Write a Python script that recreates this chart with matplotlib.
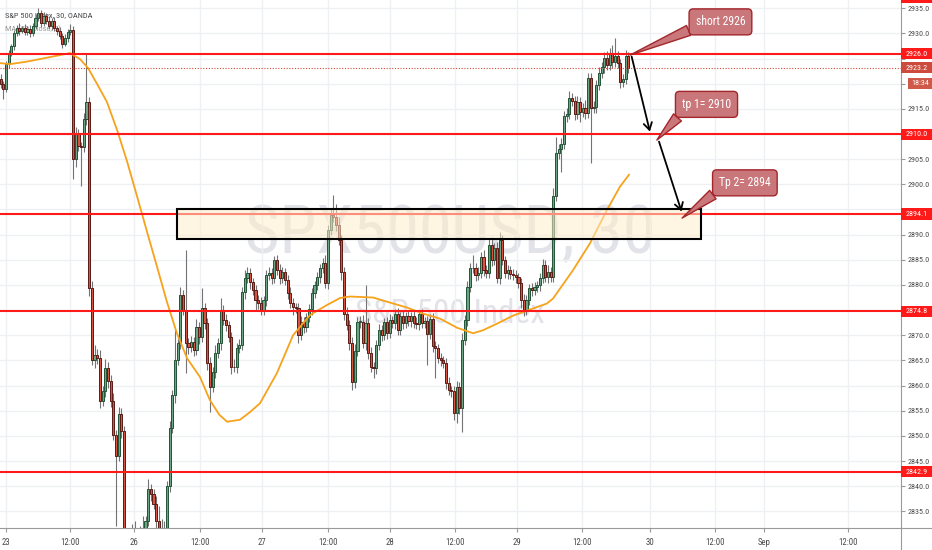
import numpy as np
import matplotlib
matplotlib.use('Agg')
import matplotlib.pyplot as plt
from matplotlib import font_manager
from matplotlib.patches import Rectangle
from matplotlib.lines import Line2D
import matplotlib.transforms as mtransforms

# SPX500USD 30 min candles, bar 0 = first bar of Aug 23 (opens = previous close)
first_bar = -2
first_open = 2921.0
closes = [
    2920, 2919, 2924, 2926, 2927.5, 2930, 2931, 2930.5, 2931, 2930.2,
    2930.8, 2930, 2931.5, 2933, 2934, 2932, 2933.5, 2932.5, 2931.5, 2932.5,
    2931, 2930.5, 2929.5, 2928, 2929, 2930.3, 2930.6, 2905, 2910, 2907.6,
    2907.5, 2913, 2916.4, 2879.3, 2865, 2866, 2865.5, 2857, 2859, 2863.5,
    2861, 2857, 2850.2, 2846, 2854.3, 2851, 2827, 2826, 2828, 2829,
    2827, 2829, 2830, 2831, 2833, 2839.5, 2838.5, 2836.5, 2833, 2830,
    2829, 2831, 2840, 2851.5, 2858.1, 2865.1, 2868.5, 2878, 2875, 2868.5,
    2867.7, 2868.7, 2867.1, 2871.7, 2869.7, 2875.5, 2872.4, 2864.5, 2859.7, 2862.7,
    2866.5, 2868.5, 2875, 2873, 2872, 2869.7, 2863.7, 2863.6, 2867.5, 2868.1,
    2878.5, 2881.4, 2882.4, 2880.6, 2879, 2877, 2876.4, 2875, 2877, 2882,
    2882.4, 2881.4, 2885, 2883, 2881.4, 2882.6, 2881, 2878.4, 2876.4, 2875.6,
    2875.4, 2870, 2872.6, 2871.6, 2873.6, 2875.2, 2878.4, 2880, 2881.6, 2883.4,
    2884.4, 2880.4, 2891, 2893.9, 2893.5, 2892, 2889, 2882.5, 2874.2, 2872,
    2868.5, 2860.8, 2866.8, 2872.6, 2872.6, 2868.5, 2872.5, 2866.5, 2863.7, 2863.5,
    2868, 2871, 2870, 2872.6, 2870.4, 2873, 2872.4, 2874.2, 2871, 2873.8,
    2872.4, 2873.8, 2872.8, 2873.8, 2872.4, 2872.2, 2874.2, 2872.4, 2872.8, 2870.2,
    2873.2, 2867.8, 2867.5, 2865.5, 2865, 2864.5, 2860.5, 2859.2, 2859, 2854.6,
    2859.8, 2855.6, 2869, 2873, 2879.5, 2883.3, 2883.3, 2882, 2882.3, 2885.5,
    2883, 2882.4, 2888, 2885, 2887.4, 2881.4, 2889, 2885, 2882.4, 2883,
    2882.2, 2882, 2881.6, 2880.4, 2877, 2875, 2877, 2879.3, 2879, 2879.6,
    2880, 2881.4, 2884, 2881.6, 2882.5, 2881.6, 2897.7, 2906.2, 2907, 2908,
    2913.6, 2914, 2917.1, 2916.6, 2914, 2916.4, 2914.4, 2915.2, 2914.2, 2921.1,
    2915.2, 2915.4, 2919.7, 2922.1, 2923.3, 2925.1, 2923.7, 2926.1, 2924.3, 2925.5,
    2924.1, 2920.3, 2921, 2925.5, 2923.2,
]
upper_wick = [
    1.0, 0.5, 0.6, 0.8, 0.5, 0.7, 0.6, 1.0, 0.5, 0.8,
    0.6, 0.9, 0.5, 0.8, 1.0, 0.6, 0.7, 0.5, 0.9, 0.6,
    0.8, 0.5, 0.7, 0.6, 0.9, 0.5, 1.2, 0.8, 1.5, 1.0,
    0.8, 1.2, 9.6, 1.0, 1.5, 2.0, 1.2, 1.5, 1.0, 1.8,
    1.2, 1.0, 1.5, 1.0, 1.5, 1.2, 1.0, 1.5, 1.0, 3.5,
    4.0, 1.0, 2.0, 3.0, 1.0, 2.0, 1.0, 1.0, 1.5, 3.0,
    3.5, 2.0, 1.0, 1.5, 1.0, 6.0, 1.0, 1.5, 1.0, 12.0,
    1.0, 1.2, 1.0, 1.5, 1.0, 3.8, 1.0, 1.0, 1.2, 1.0,
    1.5, 1.0, 2.4, 1.0, 1.2, 0.8, 1.0, 1.5, 1.0, 1.2,
    1.0, 1.5, 1.2, 1.0, 0.8, 1.0, 1.0, 1.2, 0.8, 1.0,
    1.2, 1.0, 0.8, 1.0, 1.2, 1.0, 0.8, 1.0, 1.2, 1.0,
    0.8, 1.0, 1.2, 1.0, 0.8, 1.0, 1.0, 0.8, 1.0, 0.8,
    1.0, 1.5, 1.0, 1.2, 3.9, 2.5, 1.5, 1.0, 1.0, 1.5,
    1.0, 1.2, 1.5, 1.0, 1.2, 1.5, 7.5, 1.0, 1.2, 1.0,
    1.0, 1.2, 1.0, 0.8, 1.0, 1.2, 0.8, 1.0, 1.2, 0.8,
    1.0, 0.8, 1.0, 0.8, 1.0, 1.2, 0.8, 1.0, 0.8, 1.0,
    1.0, 1.2, 1.0, 0.8, 1.0, 0.8, 1.0, 1.2, 0.8, 1.0,
    1.2, 1.0, 1.5, 1.0, 1.2, 1.0, 2.7, 1.0, 1.2, 1.0,
    1.5, 1.0, 1.2, 1.5, 1.0, 1.2, 1.5, 1.0, 0.8, 1.0,
    0.8, 1.0, 1.0, 0.8, 1.0, 1.2, 1.0, 0.8, 1.0, 1.0,
    0.8, 1.0, 1.2, 1.0, 1.5, 1.0, 1.5, 3.3, 1.0, 1.2,
    1.0, 1.2, 1.5, 1.0, 1.0, 1.2, 1.0, 1.0, 1.5, 1.0,
    1.0, 1.2, 1.0, 1.2, 1.0, 1.2, 1.5, 1.0, 1.6, 3.6,
    1.0, 0.8, 1.0, 1.2, 0.8,
]
lower_wick = [
    0.8, 2.0, 0.6, 0.8, 0.5, 0.7, 0.6, 0.8, 0.5, 0.6,
    0.6, 0.8, 0.5, 0.7, 0.6, 0.8, 0.5, 0.7, 0.6, 0.8,
    0.5, 0.8, 0.6, 0.9, 0.5, 0.7, 0.6, 4.0, 1.5, 1.0,
    7.8, 1.0, 1.2, 1.5, 1.0, 1.5, 1.2, 1.5, 1.0, 1.2,
    1.5, 1.2, 1.0, 14.0, 1.0, 1.5, 5.0, 2.0, 1.5, 2.0,
    2.0, 1.5, 2.0, 1.5, 1.0, 1.0, 1.5, 1.0, 1.5, 2.0,
    1.5, 1.0, 1.0, 1.2, 1.0, 1.5, 1.0, 1.2, 1.0, 6.0,
    1.5, 1.0, 1.2, 1.0, 1.5, 1.0, 1.2, 1.5, 5.0, 1.0,
    1.2, 1.0, 1.5, 1.0, 1.2, 1.0, 1.5, 1.0, 1.2, 1.0,
    1.0, 1.2, 1.0, 1.5, 1.0, 2.0, 1.2, 1.0, 1.0, 1.2,
    1.0, 1.2, 1.0, 1.0, 1.2, 1.0, 1.0, 1.2, 1.0, 1.5,
    1.0, 1.5, 1.0, 1.2, 1.0, 1.0, 1.2, 1.0, 1.0, 1.2,
    1.0, 1.0, 1.2, 1.0, 1.0, 1.2, 1.0, 1.5, 1.2, 1.0,
    1.5, 1.6, 1.2, 1.0, 1.2, 1.0, 1.5, 1.2, 1.0, 2.0,
    1.2, 1.0, 1.2, 1.0, 1.2, 1.0, 1.0, 1.2, 1.0, 1.0,
    1.2, 1.0, 1.0, 1.2, 1.0, 1.0, 1.2, 1.0, 1.0, 6.2,
    1.0, 1.2, 6.0, 1.0, 1.2, 1.0, 1.2, 1.0, 1.2, 1.5,
    2.1, 1.2, 4.9, 1.0, 1.2, 1.0, 1.0, 1.2, 1.0, 1.0,
    1.2, 1.0, 1.0, 1.2, 1.0, 1.0, 1.2, 1.0, 1.0, 1.2,
    1.0, 1.0, 1.2, 1.0, 1.5, 1.2, 1.0, 1.0, 1.2, 1.0,
    1.0, 1.2, 1.0, 1.0, 1.2, 1.0, 1.0, 1.0, 1.2, 4.5,
    1.0, 1.2, 1.0, 1.0, 1.2, 1.0, 2.0, 1.0, 1.2, 1.0,
    11.0, 1.0, 1.2, 1.0, 1.0, 1.2, 1.0, 1.0, 1.2, 1.0,
    1.0, 1.2, 1.0, 1.0, 1.0,
]

# MA(50) read at points along the orange curve
ma_bar = [-2.2, 1.5, 7.8, 16.4, 23.9, 27.6, 30.6, 33.9, 37.6, 41.4, 45.1, 48.8,
          52.6, 56.3, 60.0, 63.7, 67.5, 72.3, 76.0, 79.5, 82.4, 87.2, 90.9, 94.7, 101.0,
          107.0, 113.3, 119.6, 124.5, 128.2, 136.8, 143.1, 149.5, 155.4, 161.8,
          168.1, 174.1, 177.8, 183.0, 189.0, 194.2, 201.6, 203.9, 211.3, 217.7,
          224.0, 228.8, 232.2]
ma_price = [2924.1, 2923.9, 2924.4, 2925.3, 2926.1, 2924.9, 2923.1, 2920.0, 2916.4,
            2910.8, 2904.6, 2897.7, 2890.5, 2883.6, 2876.6, 2870.4, 2865.4, 2861.7,
            2857.1, 2854.2, 2852.8, 2853.2, 2854.7, 2856.5, 2862.5, 2870.0, 2874.0, 2876.0,
            2877.4, 2877.7, 2877.5, 2876.5, 2875.5, 2874.3, 2873.3, 2871.5, 2870.4,
            2871.0, 2872.3, 2873.9, 2874.9, 2876.3, 2877.3, 2882.9, 2888.3, 2894.9,
            2899.5, 2901.9]

levels = [2926.0, 2910.0, 2894.1, 2874.8, 2842.9]
top_level = 2937.2
last_price = 2923.2
countdown = '18:34'

zone_bars = (63.9, 259.0)
zone_prices = (2889.2, 2895.1)

callout_texts = ['short 2926', 'tp 1= 2910', 'Tp 2= 2894']
callout_tips = [(232.6, 2925.7), (242.6, 2908.8), (252.0, 2893.3)]
callout_centers = [(266.3, 2932.3), (261.1, 2915.9), (275.4, 2900.3)]

move_starts = [(233.2, 2925.4), (243.4, 2908.5)]
move_ends = [(240.0, 2910.5), (251.8, 2894.6)]

tick_bars = [0, 23.9, 47.7, 72.3, 95.4, 120, 143.1, 167.3, 190.5, 214.7, 240, 264.3, 282.5, 313.8]
tick_labels = ['23', '12:00', '26', '12:00', '27', '12:00', '28', '12:00', '29',
               '12:00', '30', '12:00', 'Sep', '12:00']
price_ticks = np.arange(2835, 2936, 5)
hidden_price_labels = [2925, 2920, 2910, 2895, 2875]   # covered by tags on the scale

# the screenshot text is narrow; use a condensed face when one is installed
installed = {f.name for f in font_manager.fontManager.ttflist}
narrow = [n for n in ['Roboto Condensed', 'Liberation Sans Narrow', 'Open Sans Condensed']
          if n in installed]
if narrow:
    plt.rcParams['font.family'] = [narrow[0], 'DejaVu Sans']
    fs = 1.0
else:
    plt.rcParams['font.family'] = ['Liberation Sans', 'DejaVu Sans']
    fs = 0.86

up_body, up_edge = '#6ba583', '#225437'
dn_body, dn_edge = '#d75442', '#5b1a13'
wick_col = '#737375'
axis_col = '#9a9a9a'
text_col = '#4a4a4a'

fig = plt.figure(figsize=(9.32, 5.5), dpi=100)
ax = fig.add_axes([0, 22 / 550, 901 / 932, 528 / 550])
ax.set_xlim(-2.24, 333.6)
ax.set_ylim(2831.68, 2936.65)

x = np.arange(first_bar, first_bar + len(closes))
c = np.array(closes, dtype=float)
o = np.r_[first_open, c[:-1]]
hi = np.maximum(o, c) + np.array(upper_wick)
lo = np.minimum(o, c) - np.array(lower_wick)
up = c >= o

ax.vlines(x, lo, hi, color=wick_col, lw=0.8, zorder=3)
body_h = np.maximum(np.abs(c - o), 0.15)
ax.bar(x[up], body_h[up], bottom=np.minimum(o, c)[up], width=0.8,
       color=up_body, edgecolor=up_edge, linewidth=0.7, zorder=4)
ax.bar(x[~up], body_h[~up], bottom=np.minimum(o, c)[~up], width=0.8,
       color=dn_body, edgecolor=dn_edge, linewidth=0.7, zorder=4)

ax.plot(ma_bar, ma_price, color='#f7a21b', lw=1.3, zorder=5)

for lv in levels:
    ax.axhline(lv, color='#ff1a1a', lw=1.5, zorder=5)
ax.axhline(last_price, color='#cc4b3c', lw=0.8, ls=(0, (1, 1.5)), zorder=5)

ax.add_patch(Rectangle((zone_bars[0], zone_prices[0]), zone_bars[1] - zone_bars[0],
                       zone_prices[1] - zone_prices[0], facecolor=(1, 0.93, 0.80, 0.55),
                       edgecolor='black', lw=1.5, zorder=6))

# watermark and legend
wm = 48 if narrow else 41
ax.text(0.4994, 0.5208, 'SPX500USD, 30', transform=ax.transAxes, ha='center',
        va='baseline', fontsize=wm, color='#e2e3e8', zorder=0.5)
ax.text(0.4994, 0.3883, 'S&P 500 Index', transform=ax.transAxes, ha='center',
        va='baseline', fontsize=wm * 0.5, color='#e2e3e8', zorder=0.5)
ax.text(0.0055, 0.967, 'S&P 500 Index, 30, OANDA', transform=ax.transAxes,
        fontsize=6.0 * fs, color=text_col, va='baseline', zorder=1)
ax.text(0.0055, 0.941, 'MA (50, close, 0)', transform=ax.transAxes,
        fontsize=6.0 * fs, color='#9a9a9a', va='baseline', zorder=1)

# callouts
callout_fc, callout_ec = '#c9777a', '#a3262b'
for txt, tip, cen in zip(callout_texts, callout_tips, callout_centers):
    ax.annotate(txt, xy=tip, xytext=cen, ha='center', va='center', color='white',
                fontsize=8.5 * fs, zorder=9,
                bbox=dict(boxstyle='round,pad=0.55,rounding_size=0.35', fc=callout_fc,
                          ec=callout_ec, lw=1.0),
                arrowprops=dict(arrowstyle='wedge,tail_width=0.9,shrink_factor=0.5',
                                fc=callout_fc, ec=callout_ec, lw=1.0,
                                shrinkA=0, shrinkB=0, relpos=(0.08, 0.2)))

for s, e in zip(move_starts, move_ends):
    ax.annotate('', xy=e, xytext=s, zorder=8,
                arrowprops=dict(arrowstyle='->,head_length=0.5,head_width=0.3',
                                color='black', lw=1.3, shrinkA=0, shrinkB=0))

# axes styling
ax.grid(True, color='#eef0f4', lw=1, zorder=0)
ax.set_axisbelow(True)
for side in ['top', 'left']:
    ax.spines[side].set_visible(False)
for side in ['right', 'bottom']:
    ax.spines[side].set_color(axis_col)
    ax.spines[side].set_linewidth(0.8)
ax.yaxis.tick_right()
ax.set_yticks(price_ticks)
ax.set_yticklabels(['' if v in hidden_price_labels else f'{v:.1f}' for v in price_ticks])
ax.set_xticks(tick_bars)
ax.set_xticklabels(tick_labels)
ax.tick_params(axis='y', labelsize=5.8 * fs, labelcolor=text_col, color=axis_col,
               length=3, width=0.8, pad=2)
ax.tick_params(axis='x', labelsize=6.3 * fs, labelcolor=text_col, color=axis_col,
               length=3, width=0.8, pad=4)

# price tags on the right scale
blend = mtransforms.blended_transform_factory(ax.transAxes, ax.transData)
box_w = 31 / 901
half_h = 1.1


def price_tag(price, label, color, x0=1.0):
    ax.add_patch(Rectangle((x0, price - half_h), 1.0 + box_w - x0, 2 * half_h,
                           transform=blend, facecolor=color, edgecolor='none',
                           clip_on=False, zorder=10))
    ax.text((x0 + 1.0 + box_w) / 2, price, label, transform=blend, ha='center',
            va='center', color='white', fontsize=5.8 * fs, clip_on=False, zorder=11)


for lv in [top_level] + levels:
    price_tag(lv, f'{lv:.1f}', '#ff1a1a')
price_tag(last_price, f'{last_price:.1f}', '#cc4b3c')
price_tag(last_price - 3.15, countdown, '#d05a4a', x0=1.0 + 7 / 901)

fig.add_artist(Line2D([901 / 932, 901 / 932], [0, 22 / 550], color=axis_col, lw=0.8))
fig.add_artist(Line2D([901 / 932, 1], [22 / 550, 22 / 550], color=axis_col, lw=0.8))

fig.savefig('out.png', dpi=100)
